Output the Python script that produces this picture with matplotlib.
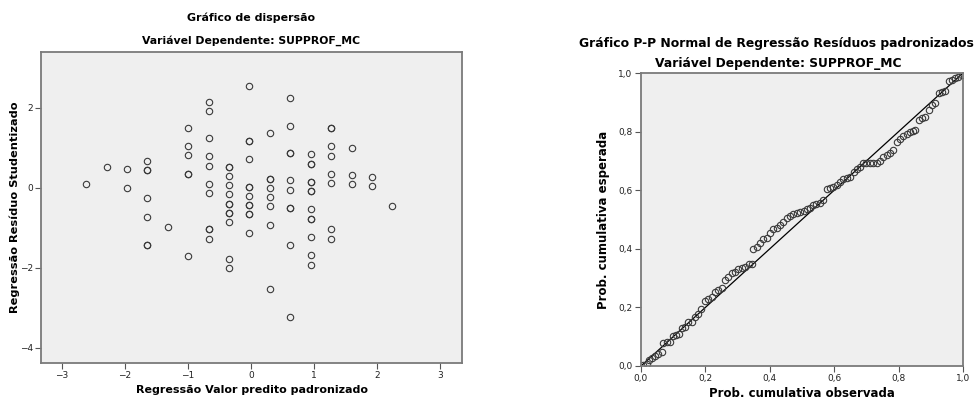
import matplotlib
matplotlib.use("Agg")
import matplotlib.pyplot as plt
from matplotlib.ticker import FuncFormatter

# ---------------- data ----------------
# Scatter: standardized predicted value vs studentized residual
pred_x = ([-2.62] + [-2.29] + [-1.97] * 2 + [-1.65] * 7 + [-1.32] + [-1.0] * 6 +
          [-0.67] * 10 + [-0.35] * 12 + [-0.03] * 12 + [0.30] * 8 + [0.62] * 10 +
          [0.95] * 13 + [1.27] * 8 + [1.60] * 3 + [1.92] * 2 + [2.24])
resid_y = [0.08,
           0.51,
           0.47, 0.0,
           0.67, 0.43, 0.43, -0.26, -0.72, -1.42, -1.42,
           -0.98,
           1.50, 1.04, 0.81, 0.35, 0.35, -1.71,
           2.14, 1.92, 1.23, 0.78, 0.54, 0.09, -0.14, -1.03, -1.03, -1.28,
           0.52, 0.52, 0.28, 0.06, -0.17, -0.41, -0.41, -0.63, -0.63, -0.86, -1.77, -2.00,
           2.53, 1.17, 1.17, 0.71, 0.02, 0.02, -0.21, -0.43, -0.43, -0.66, -0.66, -1.12,
           1.36, 0.22, 0.22, -0.02, -0.24, -0.47, -0.92, -2.52,
           2.23, 1.55, 0.87, 0.87, 0.18, -0.05, -0.50, -0.50, -1.42, -3.24,
           0.83, 0.60, 0.60, 0.14, 0.14, -0.08, -0.08, -0.54, -0.77, -0.77, -1.22, -1.68, -1.92,
           1.48, 1.48, 1.03, 0.79, 0.33, 0.11, -1.04, -1.27,
           1.00, 0.31, 0.08,
           0.27, 0.03,
           -0.47]

# P-P plot: observed vs expected cumulative probability
obs_p = [0.007, 0.018, 0.026, 0.033, 0.044, 0.052, 0.064, 0.069, 0.080, 0.090,
         0.098, 0.109, 0.119, 0.127, 0.137, 0.147, 0.158, 0.168, 0.178, 0.186,
         0.199, 0.209, 0.220, 0.230, 0.240, 0.251, 0.261, 0.271, 0.282, 0.292,
         0.302, 0.313, 0.323, 0.334, 0.344, 0.349, 0.360, 0.370, 0.380, 0.391,
         0.401, 0.411, 0.422, 0.432, 0.442, 0.453, 0.463, 0.473, 0.484, 0.494,
         0.505, 0.515, 0.525, 0.535, 0.545, 0.556, 0.566, 0.577, 0.587, 0.597,
         0.608, 0.618, 0.628, 0.639, 0.649, 0.660, 0.670, 0.680, 0.690, 0.700,
         0.711, 0.721, 0.732, 0.742, 0.752, 0.763, 0.773, 0.783, 0.794, 0.804,
         0.814, 0.825, 0.835, 0.845, 0.852, 0.862, 0.872, 0.883, 0.893, 0.903,
         0.914, 0.924, 0.934, 0.945, 0.955, 0.966, 0.976, 0.986, 0.997]
exp_p = [0.003, 0.008, 0.019, 0.029, 0.033, 0.040, 0.048, 0.079, 0.082, 0.082,
         0.102, 0.106, 0.108, 0.128, 0.133, 0.149, 0.150, 0.166, 0.176, 0.196,
         0.222, 0.227, 0.236, 0.253, 0.259, 0.265, 0.293, 0.304, 0.316, 0.321,
         0.330, 0.333, 0.339, 0.347, 0.348, 0.398, 0.405, 0.419, 0.432, 0.436,
         0.453, 0.466, 0.470, 0.481, 0.492, 0.504, 0.512, 0.519, 0.521, 0.527,
         0.530, 0.535, 0.538, 0.548, 0.552, 0.558, 0.566, 0.603, 0.608, 0.612,
         0.618, 0.628, 0.638, 0.641, 0.644, 0.663, 0.672, 0.678, 0.694, 0.694,
         0.694, 0.694, 0.694, 0.698, 0.712, 0.720, 0.727, 0.738, 0.765, 0.775,
         0.784, 0.792, 0.797, 0.802, 0.806, 0.840, 0.846, 0.851, 0.874, 0.890,
         0.899, 0.932, 0.935, 0.940, 0.971, 0.977, 0.983, 0.988, 0.994]

left_xticks = [-3, -2, -1, 0, 1, 2, 3]
left_yticks = [-4, -2, 0, 2]
pp_ticks = [0.0, 0.2, 0.4, 0.6, 0.8, 1.0]

# ---------------- style ----------------
plt.rcParams['font.family'] = ['DejaVu Sans']
BG = '#efefef'
FRAME = '#7a7a7a'
MK = dict(marker='o', markersize=4.6, markerfacecolor='none',
          markeredgecolor='#3a3a3a', markeredgewidth=0.8, linestyle='none')

fig = plt.figure(figsize=(9.77, 4.0), dpi=100)
fig.patch.set_facecolor('white')


def style_axes(ax):
    ax.set_facecolor(BG)
    for s in ax.spines.values():
        s.set_color(FRAME)
        s.set_linewidth(1.3)
    ax.tick_params(direction='out', length=4, width=0.8, color='#555555',
                   labelsize=6.5, labelcolor='#222222', pad=2)


# ---- left: scatter ----
ax1 = fig.add_axes([41 / 977, 1 - 363 / 400, (462 - 41) / 977, (363 - 52) / 400])
style_axes(ax1)
ax1.plot(pred_x, resid_y, **MK)
ax1.set_xlim(-3.33, 3.35)
ax1.set_ylim(-4.38, 3.39)
ax1.set_xticks(left_xticks)
ax1.set_yticks(left_yticks)
ax1.set_xticklabels([str(t).replace('-', '\u2212') for t in left_xticks])
ax1.set_yticklabels([str(t).replace('-', '\u2212') for t in left_yticks])
ax1.set_xlabel('Regressão Valor predito padronizado', fontsize=8,
               fontweight='bold', va='top')
ax1.xaxis.set_label_coords(0.5, -0.072)
ax1.set_ylabel('Regressão Resíduo Studentizado', fontsize=8.2,
               fontweight='bold')
ax1.yaxis.set_label_coords(-0.05, 0.5)
fig.text(251 / 977, 1 - 18 / 400, 'Gráfico de dispersão', ha='center',
         va='center', fontsize=7.9, fontweight='bold')
fig.text(251 / 977, 1 - 41 / 400, 'Variável Dependente: SUPPROF_MC',
         ha='center', va='center', fontsize=7.8, fontweight='bold')

# ---- right: P-P plot ----
ax2 = fig.add_axes([641 / 977, 1 - 366 / 400, (963 - 641) / 977, (366 - 73) / 400])
style_axes(ax2)
ax2.plot([0, 1], [0, 1], color='black', linewidth=0.9)
ax2.plot(obs_p, exp_p, **MK)
ax2.set_xlim(0, 1)
ax2.set_ylim(0, 1)
ax2.set_xticks(pp_ticks)
ax2.set_yticks(pp_ticks)
fmt = FuncFormatter(lambda v, p: f'{v:.1f}'.replace('.', ','))
ax2.xaxis.set_major_formatter(fmt)
ax2.yaxis.set_major_formatter(fmt)
ax2.set_xlabel('Prob. cumulativa observada', fontsize=8.5, fontweight='bold',
               va='top')
ax2.xaxis.set_label_coords(0.5, -0.07)
ax2.set_ylabel('Prob. cumulativa esperada', fontsize=8.5, fontweight='bold')
ax2.yaxis.set_label_coords(-0.095, 0.5)
fig.text(776 / 977, 1 - 43 / 400,
         'Gráfico P-P Normal de Regressão Resíduos padronizados',
         ha='center', va='center', fontsize=8.9, fontweight='bold')
fig.text(778 / 977, 1 - 63 / 400, 'Variável Dependente: SUPPROF_MC',
         ha='center', va='center', fontsize=8.8, fontweight='bold')

fig.savefig('out.png', dpi=100, facecolor='white')
